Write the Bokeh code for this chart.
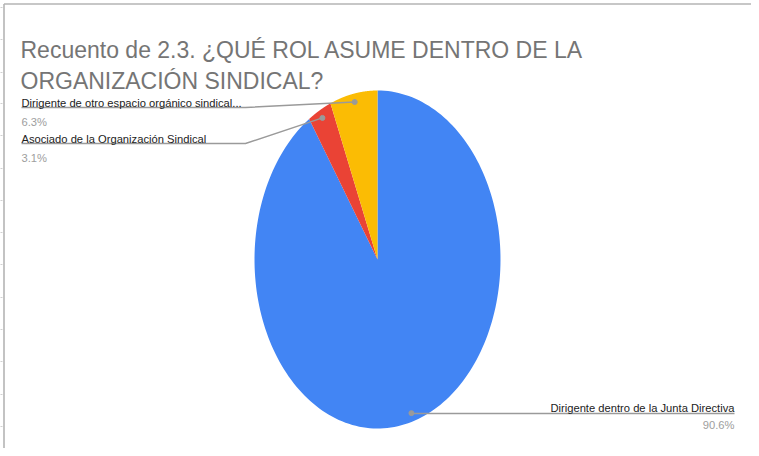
import numpy as np
from bokeh.plotting import figure
from bokeh.models import Range1d
from bokeh.core.properties import value
from bokeh.embed import file_html
from bokeh.resources import INLINE

# ---- data ----
title_lines = ["Recuento de 2.3. ¿QUÉ ROL ASUME DENTRO DE LA", "ORGANIZACIÓN SINDICAL?"]
categories = ["Dirigente dentro de la Junta Directiva",
              "Asociado de la Organización Sindical",
              "Dirigente de otro espacio orgánico sindical..."]
counts = [29, 1, 2]
colors = ["#4285F4", "#EA4335", "#FBBC04"]

# ---- layout (canvas pixel coordinates, y downward) ----
W, H = 751, 448
CX, CY, RX, RY = 377, 259, 123, 169
FONT = value("Liberation Sans")
# per category: (anchor x, label baseline y, pct baseline y, underline y, align, underline start x, underline end x)
label_layout = [
    (734, 407.5, 424, 413, "right", None, 734),
    (21, 138, 157, 143, "left", 21, 245),
    (21, 102.5, 121, 107, "left", 21, 245),
]
row_ticks = [7, 39, 72, 103, 135, 168, 200, 232, 264, 297, 329, 361, 394, 426]

p = figure(width=W, height=H, output_backend="svg", toolbar_location=None,
           x_range=Range1d(0, W), y_range=Range1d(H, 0), min_border=0,
           outline_line_color=None, background_fill_color="white",
           border_fill_color="white")
p.axis.visible = False
p.grid.visible = False

# spreadsheet frame decoration
p.segment(x0=[3.5, 3.5], y0=[3.5, 3.5], x1=[W, 3.5], y1=[3.5, H],
          line_color="#b4b4b4", line_width=1.6)
p.segment(x0=[-1] * len(row_ticks), y0=row_ticks, x1=[2] * len(row_ticks), y1=row_ticks,
          line_color="#d0d0d0", line_width=1)

# pie (elliptical because of the reference's aspect)
total = float(sum(counts))
fracs = [c / total for c in counts]
starts = np.cumsum([0] + fracs[:-1]) * 2 * np.pi
ends = np.cumsum(fracs) * 2 * np.pi
xs, ys = [], []
for a0, a1 in zip(starts, ends):
    th = np.linspace(a0, a1, 200)
    xs.append([CX] + list(CX + RX * np.sin(th)) + [CX])
    ys.append([CY] + list(CY - RY * np.cos(th)) + [CY])
p.patches(xs=xs, ys=ys, fill_color=colors, line_color=None)

# leader dots at slice mid angles
mids = (starts + ends) / 2
dot_x = CX + 0.95 * RX * np.sin(mids)
dot_y = CY - 0.95 * RY * np.cos(mids)

lx, ly = [], []
for i, (ax, by, pby, uy, align, ux0, ux1) in enumerate(label_layout):
    if align == "right":
        lx.append([dot_x[i], ux1])
        ly.append([uy, uy])
    else:
        lx.append([ux0, ux1, dot_x[i]])
        ly.append([uy, uy, dot_y[i]])
p.multi_line(xs=lx, ys=ly, line_color="#9a9a9a", line_width=1.5)
p.scatter(x=dot_x, y=dot_y, size=5, color="#9a9a9a")

pct_text = ["%.1f%%" % (np.floor(f * 1000 + 0.5) / 10) for f in fracs]
for i, (ax, by, pby, uy, align, ux0, ux1) in enumerate(label_layout):
    p.text(x=[ax], y=[by], text=[categories[i]], text_font=FONT,
           text_font_size="11.2px", text_color="#222222",
           text_align=align, text_baseline="alphabetic")
    p.text(x=[ax], y=[pby], text=[pct_text[i]], text_font=FONT,
           text_font_size="11.2px", text_color="#9e9e9e",
           text_align=align, text_baseline="alphabetic")

# title
p.text(x=[20, 20], y=[49, 80], text=title_lines, text_font=FONT,
       text_font_size="23px", text_color="#757575",
       text_align="left", text_baseline="alphabetic")

open("out.html", "w").write(file_html(p, INLINE))
